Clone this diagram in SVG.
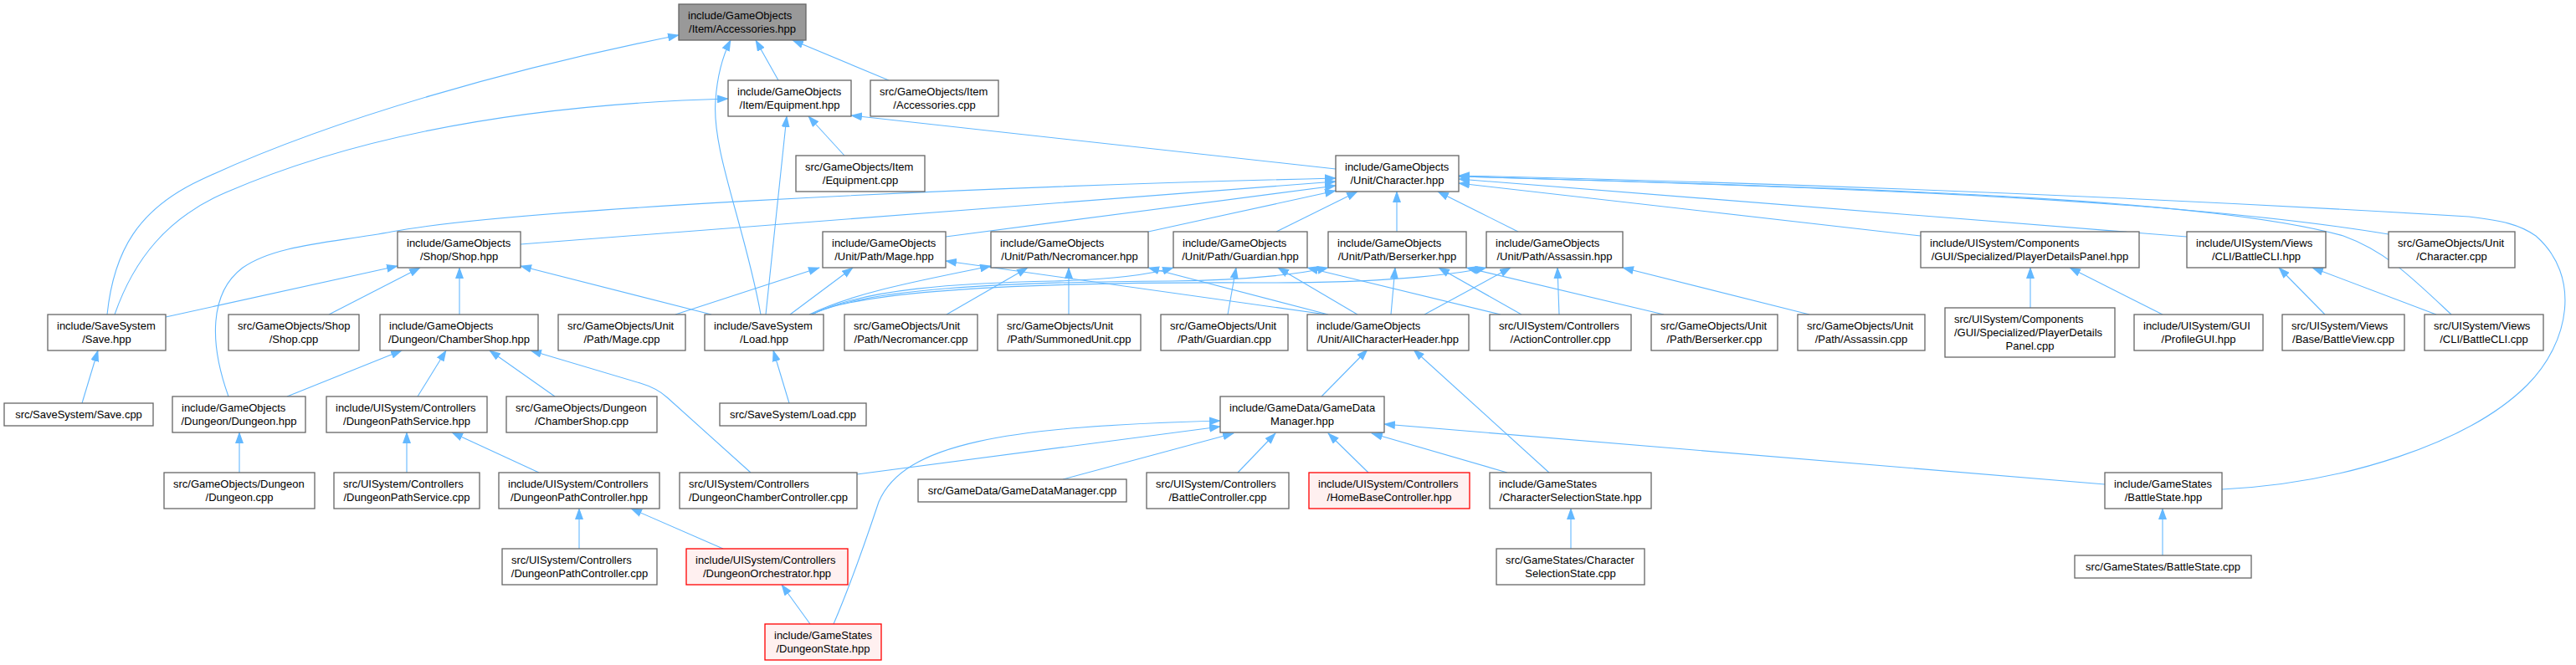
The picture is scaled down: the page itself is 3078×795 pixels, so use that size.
<svg xmlns="http://www.w3.org/2000/svg" width="3078" height="795" viewBox="0 0 3078 795">
<defs>
<marker id="a" markerUnits="userSpaceOnUse" markerWidth="14" markerHeight="10" refX="13" refY="5" orient="auto" viewBox="0 0 14 10"><path d="M0,0L14,5L0,10z" fill="#63b8ff"/></marker>
<style>
.n rect{fill:#fff;stroke:#666;stroke-width:1.3}
.n.root rect{fill:#999}
.n.red rect{fill:#fff0f0;stroke:#ff0000}
text{font-family:"Liberation Sans",Arial,Helvetica,sans-serif;font-size:13px;fill:#000}
text.c{text-anchor:middle}
#edges path{fill:none;stroke:#63b8ff;stroke-width:1.1;marker-end:url(#a)}
</style>
</defs>
<rect width="3078" height="795" fill="#fff"/>
<g id="edges">
<path d="M128,376 C136,300 165,250 240,215 C400,140 620,80 811,42"/>
<path d="M137,376 C160,310 200,260 270,230 C420,165 620,125 870,118"/>
<path d="M1062,96 L947,48"/>
<path d="M930,96 L903,48"/>
<path d="M909,376 C890,270 850,180 855,120 C857,90 864,66 873,48"/>
<path d="M915,376 L940,139"/>
<path d="M1009,186 L966,139"/>
<path d="M1596,202 L1017,138"/>
<path d="M273,474 C250,410 250,350 290,320 C330,292 400,290 468,277 C600,252 1100,225 1596,213"/>
<path d="M622,292 L1596,217"/>
<path d="M1130,283 L1596,222"/>
<path d="M1372,277 L1596,228"/>
<path d="M1525,277 L1622,229"/>
<path d="M1669,277 L1669,229"/>
<path d="M1814,277 L1718,229"/>
<path d="M2295,282 L1743,219"/>
<path d="M2613,283 L1743,214"/>
<path d="M2854,280 C2600,238 2200,224 1743,211"/>
<path d="M2929,376 C2880,330 2850,300 2800,282 C2650,240 2300,226 1743,211"/>
<path d="M2655,585 C2800,578 2950,530 3020,460 C3070,410 3085,330 3030,282 C3010,268 2990,264 2950,259 C2500,232 2100,218 1743,210"/>
<path d="M850,376 L622,318"/>
<path d="M198,379 L475,318"/>
<path d="M393,376 L502,320"/>
<path d="M549,376 L549,320"/>
<path d="M807,376 L979,320"/>
<path d="M944,376 L1019,320"/>
<path d="M1585,376 L1130,312"/>
<path d="M967,376 C1020,350 1100,335 1184,318"/>
<path d="M1131,376 L1228,320"/>
<path d="M1277,376 L1277,320"/>
<path d="M1587,376 L1372,320"/>
<path d="M970,376 C1030,345 1150,338 1260,336 C1330,334 1375,328 1402,320"/>
<path d="M970,376 C1030,345 1200,337 1400,336 C1500,335 1560,326 1587,320"/>
<path d="M970,376 C1030,345 1250,337 1500,338 C1650,339 1740,328 1776,320"/>
<path d="M1467,376 L1477,320"/>
<path d="M1622,376 L1527,320"/>
<path d="M1793,376 L1562,320"/>
<path d="M1662,376 L1667,320"/>
<path d="M1818,376 L1719,320"/>
<path d="M1988,376 L1752,320"/>
<path d="M1702,376 L1805,320"/>
<path d="M1863,376 L1861,320"/>
<path d="M2162,376 L1939,320"/>
<path d="M1579,474 L1634,418"/>
<path d="M1851,565 L1689,418"/>
<path d="M1024,567 L1458,510"/>
<path d="M996,746 C1020,690 1040,630 1050,600 C1080,530 1200,510 1458,503"/>
<path d="M1270,573 L1474,518"/>
<path d="M1479,565 L1524,518"/>
<path d="M1635,565 L1587,518"/>
<path d="M1801,565 L1639,518"/>
<path d="M2515,579 L1654,507"/>
<path d="M1877,656 L1877,608"/>
<path d="M2584,664 L2584,608"/>
<path d="M98,482 L117,419"/>
<path d="M943,482 L924,419"/>
<path d="M343,474 L480,419"/>
<path d="M499,474 L533,419"/>
<path d="M663,474 L585,419"/>
<path d="M897,565 L797,475 Q785,464 765,458 L634,419"/>
<path d="M286,565 L286,517"/>
<path d="M486,565 L486,517"/>
<path d="M644,565 L540,517"/>
<path d="M692,656 L692,608"/>
<path d="M864,656 L754,608"/>
<path d="M968,746 L934,699"/>
<path d="M2426,368 L2426,320"/>
<path d="M2584,376 L2473,320"/>
<path d="M2778,376 L2723,320"/>
<path d="M2911,376 L2763,320"/>
</g>
<g id="acc_hpp" class="n root"><rect x="811" y="5" width="152" height="43"/><text x="822" y="23">include/GameObjects</text><text class="c" x="887" y="39">/Item/Accessories.hpp</text></g>
<g id="equip_hpp" class="n"><rect x="870" y="96" width="147" height="43"/><text x="881" y="114">include/GameObjects</text><text class="c" x="943.5" y="130">/Item/Equipment.hpp</text></g>
<g id="acc_cpp" class="n"><rect x="1040" y="96" width="153" height="43"/><text x="1051" y="114">src/GameObjects/Item</text><text class="c" x="1116.5" y="130">/Accessories.cpp</text></g>
<g id="equip_cpp" class="n"><rect x="951" y="186" width="154" height="43"/><text x="962" y="204">src/GameObjects/Item</text><text class="c" x="1028" y="220">/Equipment.cpp</text></g>
<g id="char_hpp" class="n"><rect x="1596" y="186" width="147" height="43"/><text x="1607" y="204">include/GameObjects</text><text class="c" x="1669.5" y="220">/Unit/Character.hpp</text></g>
<g id="shop_hpp" class="n"><rect x="475" y="277" width="147" height="43"/><text x="486" y="295">include/GameObjects</text><text class="c" x="548.5" y="311">/Shop/Shop.hpp</text></g>
<g id="mage_hpp" class="n"><rect x="983" y="277" width="147" height="43"/><text x="994" y="295">include/GameObjects</text><text class="c" x="1056.5" y="311">/Unit/Path/Mage.hpp</text></g>
<g id="necro_hpp" class="n"><rect x="1184" y="277" width="188" height="43"/><text x="1195" y="295">include/GameObjects</text><text class="c" x="1278" y="311">/Unit/Path/Necromancer.hpp</text></g>
<g id="guard_hpp" class="n"><rect x="1402" y="277" width="160" height="43"/><text x="1413" y="295">include/GameObjects</text><text class="c" x="1482" y="311">/Unit/Path/Guardian.hpp</text></g>
<g id="bers_hpp" class="n"><rect x="1587" y="277" width="165" height="43"/><text x="1598" y="295">include/GameObjects</text><text class="c" x="1669.5" y="311">/Unit/Path/Berserker.hpp</text></g>
<g id="assa_hpp" class="n"><rect x="1776" y="277" width="163" height="43"/><text x="1787" y="295">include/GameObjects</text><text class="c" x="1857.5" y="311">/Unit/Path/Assassin.hpp</text></g>
<g id="pdp_hpp" class="n"><rect x="2295" y="277" width="261" height="43"/><text x="2306" y="295">include/UISystem/Components</text><text class="c" x="2425.5" y="311">/GUI/Specialized/PlayerDetailsPanel.hpp</text></g>
<g id="bcli_hpp" class="n"><rect x="2613" y="277" width="166" height="43"/><text x="2624" y="295">include/UISystem/Views</text><text class="c" x="2696" y="311">/CLI/BattleCLI.hpp</text></g>
<g id="char_cpp" class="n"><rect x="2854" y="277" width="151" height="43"/><text x="2865" y="295">src/GameObjects/Unit</text><text class="c" x="2929.5" y="311">/Character.cpp</text></g>
<g id="save_hpp" class="n"><rect x="57" y="376" width="141" height="43"/><text x="68" y="394">include/SaveSystem</text><text class="c" x="127.5" y="410">/Save.hpp</text></g>
<g id="shop_cpp" class="n"><rect x="273" y="376" width="156" height="43"/><text x="284" y="394">src/GameObjects/Shop</text><text class="c" x="351" y="410">/Shop.cpp</text></g>
<g id="cshop_hpp" class="n"><rect x="454" y="376" width="189" height="43"/><text x="465" y="394">include/GameObjects</text><text class="c" x="548.5" y="410">/Dungeon/ChamberShop.hpp</text></g>
<g id="mage_cpp" class="n"><rect x="667" y="376" width="152" height="43"/><text x="678" y="394">src/GameObjects/Unit</text><text class="c" x="743" y="410">/Path/Mage.cpp</text></g>
<g id="load_hpp" class="n"><rect x="842" y="376" width="142" height="43"/><text x="853" y="394">include/SaveSystem</text><text class="c" x="913" y="410">/Load.hpp</text></g>
<g id="necro_cpp" class="n"><rect x="1009" y="376" width="159" height="43"/><text x="1020" y="394">src/GameObjects/Unit</text><text class="c" x="1088.5" y="410">/Path/Necromancer.cpp</text></g>
<g id="summ_cpp" class="n"><rect x="1192" y="376" width="171" height="43"/><text x="1203" y="394">src/GameObjects/Unit</text><text class="c" x="1277.5" y="410">/Path/SummonedUnit.cpp</text></g>
<g id="guard_cpp" class="n"><rect x="1387" y="376" width="152" height="43"/><text x="1398" y="394">src/GameObjects/Unit</text><text class="c" x="1463" y="410">/Path/Guardian.cpp</text></g>
<g id="allch_hpp" class="n"><rect x="1562" y="376" width="193" height="43"/><text x="1573" y="394">include/GameObjects</text><text class="c" x="1658.5" y="410">/Unit/AllCharacterHeader.hpp</text></g>
<g id="action_cpp" class="n"><rect x="1780" y="376" width="169" height="43"/><text x="1791" y="394">src/UISystem/Controllers</text><text class="c" x="1864.5" y="410">/ActionController.cpp</text></g>
<g id="bers_cpp" class="n"><rect x="1973" y="376" width="151" height="43"/><text x="1984" y="394">src/GameObjects/Unit</text><text class="c" x="2048.5" y="410">/Path/Berserker.cpp</text></g>
<g id="assa_cpp" class="n"><rect x="2148" y="376" width="152" height="43"/><text x="2159" y="394">src/GameObjects/Unit</text><text class="c" x="2224" y="410">/Path/Assassin.cpp</text></g>
<g id="pdp_cpp" class="n"><rect x="2324" y="368" width="203" height="59"/><text x="2335" y="386">src/UISystem/Components</text><text x="2335" y="402">/GUI/Specialized/PlayerDetails</text><text class="c" x="2425.5" y="418">Panel.cpp</text></g>
<g id="profile_hpp" class="n"><rect x="2550" y="376" width="154" height="43"/><text x="2561" y="394">include/UISystem/GUI</text><text class="c" x="2627" y="410">/ProfileGUI.hpp</text></g>
<g id="bview_cpp" class="n"><rect x="2727" y="376" width="146" height="43"/><text x="2738" y="394">src/UISystem/Views</text><text class="c" x="2800" y="410">/Base/BattleView.cpp</text></g>
<g id="bcli_cpp" class="n"><rect x="2897" y="376" width="142" height="43"/><text x="2908" y="394">src/UISystem/Views</text><text class="c" x="2968" y="410">/CLI/BattleCLI.cpp</text></g>
<g id="save_cpp" class="n"><rect x="5" y="482" width="178" height="27"/><text class="c" x="94" y="500">src/SaveSystem/Save.cpp</text></g>
<g id="dungeon_hpp" class="n"><rect x="206" y="474" width="159" height="43"/><text x="217" y="492">include/GameObjects</text><text class="c" x="285.5" y="508">/Dungeon/Dungeon.hpp</text></g>
<g id="dps_hpp" class="n"><rect x="390" y="474" width="192" height="43"/><text x="401" y="492">include/UISystem/Controllers</text><text class="c" x="486" y="508">/DungeonPathService.hpp</text></g>
<g id="cshop_cpp" class="n"><rect x="605" y="474" width="180" height="43"/><text x="616" y="492">src/GameObjects/Dungeon</text><text class="c" x="695" y="508">/ChamberShop.cpp</text></g>
<g id="load_cpp" class="n"><rect x="860" y="482" width="175" height="27"/><text class="c" x="947.5" y="500">src/SaveSystem/Load.cpp</text></g>
<g id="gdm_hpp" class="n"><rect x="1458" y="474" width="196" height="43"/><text x="1469" y="492">include/GameData/GameData</text><text class="c" x="1556" y="508">Manager.hpp</text></g>
<g id="dungeon_cpp" class="n"><rect x="196" y="565" width="180" height="43"/><text x="207" y="583">src/GameObjects/Dungeon</text><text class="c" x="286" y="599">/Dungeon.cpp</text></g>
<g id="dps_cpp" class="n"><rect x="399" y="565" width="174" height="43"/><text x="410" y="583">src/UISystem/Controllers</text><text class="c" x="486" y="599">/DungeonPathService.cpp</text></g>
<g id="dpc_hpp" class="n"><rect x="596" y="565" width="192" height="43"/><text x="607" y="583">include/UISystem/Controllers</text><text class="c" x="692" y="599">/DungeonPathController.hpp</text></g>
<g id="dcc_cpp" class="n"><rect x="812" y="565" width="212" height="43"/><text x="823" y="583">src/UISystem/Controllers</text><text class="c" x="918" y="599">/DungeonChamberController.cpp</text></g>
<g id="gdm_cpp" class="n"><rect x="1097" y="573" width="249" height="27"/><text class="c" x="1221.5" y="591">src/GameData/GameDataManager.cpp</text></g>
<g id="bctrl_cpp" class="n"><rect x="1370" y="565" width="170" height="43"/><text x="1381" y="583">src/UISystem/Controllers</text><text class="c" x="1455" y="599">/BattleController.cpp</text></g>
<g id="home_hpp" class="n red"><rect x="1564" y="565" width="192" height="43"/><text x="1575" y="583">include/UISystem/Controllers</text><text class="c" x="1660" y="599">/HomeBaseController.hpp</text></g>
<g id="css_hpp" class="n"><rect x="1780" y="565" width="193" height="43"/><text x="1791" y="583">include/GameStates</text><text class="c" x="1876.5" y="599">/CharacterSelectionState.hpp</text></g>
<g id="bstate_hpp" class="n"><rect x="2515" y="565" width="140" height="43"/><text x="2526" y="583">include/GameStates</text><text class="c" x="2585" y="599">/BattleState.hpp</text></g>
<g id="dpc_cpp" class="n"><rect x="600" y="656" width="185" height="43"/><text x="611" y="674">src/UISystem/Controllers</text><text class="c" x="692.5" y="690">/DungeonPathController.cpp</text></g>
<g id="dorch_hpp" class="n red"><rect x="820" y="656" width="193" height="43"/><text x="831" y="674">include/UISystem/Controllers</text><text class="c" x="916.5" y="690">/DungeonOrchestrator.hpp</text></g>
<g id="css_cpp" class="n"><rect x="1788" y="656" width="177" height="43"/><text x="1799" y="674">src/GameStates/Character</text><text class="c" x="1876.5" y="690">SelectionState.cpp</text></g>
<g id="bstate_cpp" class="n"><rect x="2479" y="664" width="211" height="27"/><text class="c" x="2584.5" y="682">src/GameStates/BattleState.cpp</text></g>
<g id="dstate_hpp" class="n red"><rect x="914" y="746" width="139" height="43"/><text x="925" y="764">include/GameStates</text><text class="c" x="983.5" y="780">/DungeonState.hpp</text></g>
</svg>
